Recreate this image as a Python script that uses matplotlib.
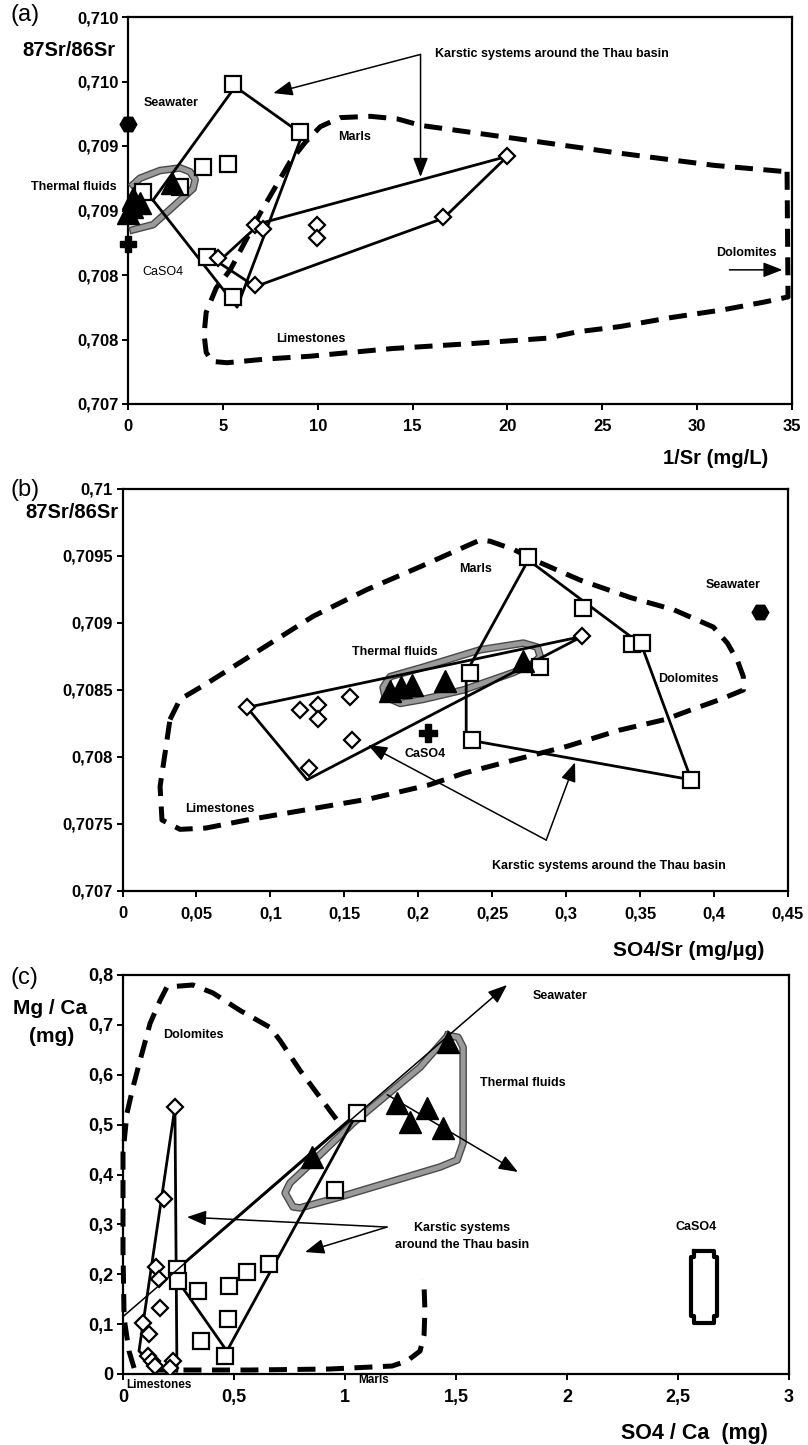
import matplotlib
matplotlib.use("Agg")
import matplotlib.pyplot as plt
import matplotlib.patheffects as pe

plt.rcParams["font.family"] = ["Liberation Sans", "DejaVu Sans"]
plt.rcParams["font.weight"] = "bold"

W, H = 808, 1445

# ---------------- panel (a): 87Sr/86Sr vs 1/Sr
a_sq_x = [5.54, 9.08, 3.96, 5.28, 2.75, 0.79, 4.17, 5.54]
a_sq_y = [0.70948, 0.70911, 0.70884, 0.70886, 0.70868, 0.70864, 0.70814, 0.70783]
a_dia_x = [4.75, 6.70, 7.13, 9.98, 9.98, 6.70, 20.0, 16.6]
a_dia_y = [0.70813, 0.70839, 0.70836, 0.70839, 0.70829, 0.70792, 0.70892, 0.70845]
a_tri_x = [0.26, 0.63, 0.0, 0.21, 2.32]
a_tri_y = [0.70860, 0.70856, 0.70848, 0.70853, 0.70871]
a_sea = [0.0, 0.70917]
a_caso4 = [0.0, 0.70824]
a_poly_sq_x = [1.32, 5.65, 9.19, 5.75, 1.32]
a_poly_sq_y = [0.70858, 0.70946, 0.70909, 0.70775, 0.70858]
a_poly_dia_x = [4.75, 6.97, 20.0, 16.63, 6.71, 4.75]
a_poly_dia_y = [0.70810, 0.70840, 0.70892, 0.70844, 0.70791, 0.70810]
a_carb_x = [34.74, 34.79, 33.53, 31.36, 28.62, 25.92, 23.71, 22.07, 18.27, 13.94,
            9.56, 7.39, 5.23, 4.43, 4.12, 4.01, 4.12, 4.65, 5.39, 6.97, 8.55,
            9.35, 10.14, 11.19, 12.78, 14.2, 15.42, 20.33, 25.61, 30.89, 34.74]
a_carb_y = [0.70880, 0.70783, 0.70779, 0.70773, 0.70767, 0.70760, 0.70756, 0.70751,
            0.70747, 0.70743, 0.70737, 0.70735, 0.70732, 0.70733, 0.70740, 0.70754,
            0.70771, 0.70790, 0.70804, 0.70848, 0.70888, 0.70903, 0.70915, 0.70922,
            0.70923, 0.70921, 0.70916, 0.70906, 0.70895, 0.70885, 0.70880]
a_thermal_x = [0.26, 1.32, 2.38, 3.43, 3.54, 3.27, 2.75, 1.69, 0.63, 0.26]
a_thermal_y = [0.70835, 0.70839, 0.70853, 0.70867, 0.70874, 0.70880, 0.70883,
               0.70881, 0.70875, 0.70870]
a_xticks = [0, 5, 10, 15, 20, 25, 30, 35]
a_xlabels = ["0", "5", "10", "15", "20", "25", "30", "35"]
a_yticks = [0.707, 0.7075, 0.708, 0.7085, 0.709, 0.7095, 0.710]
a_ylabels = ["0,707", "0,708", "0,708", "0,709", "0,709", "0,710", "0,710"]

# ---------------- panel (b): 87Sr/86Sr vs SO4/Sr
b_sq_x = [0.2744, 0.3116, 0.3447, 0.3515, 0.2351, 0.2825, 0.2365, 0.3846]
b_sq_y = [0.70949, 0.70911, 0.70884, 0.70885, 0.70863, 0.70867, 0.70813, 0.70783]
b_dia_x = [0.0842, 0.1201, 0.1323, 0.1323, 0.1540, 0.1553, 0.1262, 0.3109]
b_dia_y = [0.70837, 0.70835, 0.70839, 0.70828, 0.70845, 0.70813, 0.70792, 0.70890]
b_tri_x = [0.181, 0.188, 0.196, 0.218, 0.271]
b_tri_y = [0.70849, 0.70852, 0.70854, 0.70857, 0.70872]
b_sea = [0.4313, 0.70908]
b_caso4 = [0.2067, 0.70818]
b_poly_sq_x = [0.2744, 0.3508, 0.3846, 0.2324, 0.2324, 0.2744]
b_poly_sq_y = [0.70947, 0.70884, 0.70783, 0.70813, 0.70863, 0.70947]
b_poly_dia_x = [0.0842, 0.3109, 0.1248, 0.0842]
b_poly_dia_y = [0.70837, 0.70890, 0.70783, 0.70837]
b_carb_x = [0.0321, 0.0389, 0.0572, 0.0930, 0.1289, 0.1654, 0.2013, 0.2236, 0.2419,
            0.2486, 0.2642, 0.2804, 0.3095, 0.3434, 0.3725, 0.3995, 0.4090, 0.4158,
            0.4198, 0.4198, 0.4043, 0.3840, 0.3670, 0.3359, 0.3007, 0.2656, 0.2311,
            0.2067, 0.1681, 0.1262, 0.0842, 0.0565, 0.0389, 0.0267, 0.0254, 0.0288,
            0.0321]
b_carb_y = [0.70828, 0.70843, 0.70855, 0.70880, 0.70905, 0.70925, 0.70942, 0.70953,
            0.70962, 0.70961, 0.70955, 0.70946, 0.70932, 0.70919, 0.70910, 0.70897,
            0.70885, 0.70872, 0.70860, 0.70850, 0.70843, 0.70835, 0.70828, 0.70820,
            0.70808, 0.70798, 0.70788, 0.70779, 0.70769, 0.70761, 0.70753, 0.70747,
            0.70746, 0.70753, 0.70778, 0.70803, 0.70828]
b_thermal_x = [0.1776, 0.1878, 0.2033, 0.2304, 0.2642, 0.2777, 0.2825, 0.2804, 0.2710,
               0.2419, 0.2033, 0.1810, 0.1762, 0.1776]
b_thermal_y = [0.70845, 0.70840, 0.70843, 0.70850, 0.70863, 0.70870, 0.70875, 0.70882,
               0.70885, 0.70880, 0.70867, 0.70860, 0.70852, 0.70845]
b_xticks = [0, 0.05, 0.1, 0.15, 0.2, 0.25, 0.3, 0.35, 0.4, 0.45]
b_xlabels = ["0", "0,05", "0,1", "0,15", "0,2", "0,25", "0,3", "0,35", "0,4", "0,45"]
b_yticks = [0.707, 0.7075, 0.708, 0.7085, 0.709, 0.7095, 0.71]
b_ylabels = ["0,707", "0,7075", "0,708", "0,7085", "0,709", "0,7095", "0,71"]

# ---------------- panel (c): Mg/Ca vs SO4/Ca
c_sq_x = [0.243, 0.248, 0.338, 0.477, 0.559, 0.658, 0.473, 0.351, 0.459, 0.955, 1.054]
c_sq_y = [0.210, 0.186, 0.166, 0.176, 0.204, 0.220, 0.110, 0.066, 0.036, 0.369, 0.523]
c_dia_x = [0.234, 0.185, 0.149, 0.162, 0.167, 0.090, 0.117, 0.113, 0.131, 0.144, 0.225, 0.212]
c_dia_y = [0.535, 0.351, 0.214, 0.190, 0.132, 0.102, 0.080, 0.036, 0.026, 0.016, 0.026, 0.012]
c_tri_x = [1.464, 1.234, 1.293, 1.369, 1.441, 0.851]
c_tri_y = [0.665, 0.543, 0.505, 0.533, 0.493, 0.435]
c_poly_sq_x = [0.243, 1.054, 0.468, 0.248, 0.243]
c_poly_sq_y = [0.210, 0.523, 0.046, 0.186, 0.210]
c_poly_dia_x = [0.234, 0.072, 0.144, 0.212, 0.243, 0.234]
c_poly_dia_y = [0.535, 0.046, 0.016, 0.012, 0.005, 0.535]
c_dolo_x = [0.050, 0.027, 0.005, 0.0, 0.0, 0.018, 0.045, 0.077, 0.122, 0.167, 0.198,
            0.257, 0.315, 0.405, 0.527, 0.662, 0.707, 0.797, 0.887, 0.964, 0.991]
c_dolo_y = [0.012, 0.046, 0.112, 0.248, 0.443, 0.523, 0.575, 0.629, 0.703, 0.749, 0.776,
            0.778, 0.780, 0.764, 0.729, 0.695, 0.669, 0.609, 0.555, 0.509, 0.483]
c_marl_x = [0.144, 0.572, 0.932, 1.212, 1.279, 1.338, 1.356, 1.360, 1.356, 1.347]
c_marl_y = [0.008, 0.008, 0.010, 0.016, 0.026, 0.046, 0.078, 0.126, 0.180, 0.190]
c_thermal_x = [1.464, 1.509, 1.532, 1.532, 1.505, 1.428, 0.977, 0.797, 0.766, 0.730,
               0.752, 0.829, 1.036, 1.338, 1.464]
c_thermal_y = [0.679, 0.675, 0.655, 0.463, 0.429, 0.415, 0.355, 0.333, 0.335, 0.363,
               0.383, 0.415, 0.503, 0.615, 0.679]
c_caso4_x = [2.572, 2.662, 2.662, 2.676, 2.676, 2.662, 2.662, 2.572, 2.572, 2.559, 2.559, 2.572, 2.572]
c_caso4_y = [0.2465, 0.2465, 0.2345, 0.2345, 0.1162, 0.1162, 0.1022, 0.1022, 0.1162,
             0.1162, 0.2345, 0.2345, 0.2465]
c_xticks = [0, 0.5, 1, 1.5, 2, 2.5, 3]
c_xlabels = ["0", "0,5", "1", "1,5", "2", "2,5", "3"]
c_yticks = [0, 0.1, 0.2, 0.3, 0.4, 0.5, 0.6, 0.7, 0.8]
c_ylabels = ["0", "0,1", "0,2", "0,3", "0,4", "0,5", "0,6", "0,7", "0,8"]

DASH = (0, (3.6, 2.1))
GRAY_FX = [pe.Stroke(linewidth=5.5, foreground="#4a4a4a"), pe.Normal()]


def style_axes(ax, xlim, ylim, xticks, xlabels, yticks, ylabels, size=12):
    ax.set_xlim(xlim)
    ax.set_ylim(ylim)
    ax.set_xticks(xticks)
    ax.set_xticklabels(xlabels)
    ax.set_yticks(yticks)
    ax.set_yticklabels(ylabels)
    for s in ax.spines.values():
        s.set_linewidth(1.6)
    ax.tick_params(direction="out", length=4, width=1.4, labelsize=size)
    ax.tick_params(axis="x", pad=7)
    ax.tick_params(axis="y", pad=3)


def markers(ax, sq, dia, tri):
    ax.plot(sq[0], sq[1], "s", ms=12, mfc="white", mec="black", mew=1.6, ls="none", zorder=5)
    ax.plot(dia[0], dia[1], "D", ms=8, mfc="white", mec="black", mew=1.6, ls="none", zorder=5)
    ax.plot(tri[0], tri[1], "^", ms=16, color="black", ls="none", zorder=6, clip_on=False)


def arrow(ax, start, end, lw=1.1):
    ax.annotate("", xy=end, xytext=start,
                arrowprops=dict(arrowstyle="-|>,head_length=0.9,head_width=0.35",
                                mutation_scale=13, lw=lw, color="black",
                                shrinkA=0, shrinkB=0), zorder=7)


fig = plt.figure(figsize=(W / 100, H / 100), dpi=100)

# ---------------- (a)
ax = fig.add_axes([128 / W, 1 - 404 / H, 664 / W, 387 / H])
ax.plot(a_carb_x, a_carb_y, color="black", lw=3.6, ls=DASH, dash_capstyle="butt", zorder=2)
ax.plot(a_thermal_x, a_thermal_y, color="#9a9a9a", lw=3.5, path_effects=GRAY_FX, zorder=3)
ax.plot(a_poly_sq_x, a_poly_sq_y, color="black", lw=2, zorder=4)
ax.plot(a_poly_dia_x, a_poly_dia_y, color="black", lw=2, zorder=4)
markers(ax, (a_sq_x, a_sq_y), (a_dia_x, a_dia_y), (a_tri_x, a_tri_y))
ax.plot(a_sea[0], a_sea[1], "H", ms=12, color="black", clip_on=False, zorder=6)
ax.plot(a_caso4[0], a_caso4[1], "P", ms=12, color="black", clip_on=False, zorder=6)
arrow(ax, (15.42, 0.70971), (7.66, 0.70941))
arrow(ax, (15.42, 0.70971), (15.42, 0.70876))
arrow(ax, (31.7, 0.70804), (34.5, 0.70804))
fs = 9
ax.text(16.2, 0.70971, "Karstic systems around the Thau basin", fontsize=fs, va="center")
ax.text(0.8, 0.70933, "Seawater", fontsize=fs, va="center")
ax.text(-0.6, 0.70868, "Thermal fluids", fontsize=fs, va="center", ha="right", clip_on=False)
ax.text(0.74, 0.70802, "CaSO4", fontsize=fs, va="center", fontweight="normal")
ax.text(11.1, 0.70907, "Marls", fontsize=fs, va="center")
ax.text(7.8, 0.70750, "Limestones", fontsize=fs, va="center")
ax.text(31.0, 0.70817, "Dolomites", fontsize=fs, va="center")
style_axes(ax, (0, 35), (0.707, 0.710), a_xticks, a_xlabels, a_yticks, a_ylabels)
fig.text(10 / W, 1 - 15 / H, "(a)", fontsize=17, fontweight="normal", va="center")
fig.text(116 / W, 1 - 50 / H, "87Sr/86Sr", fontsize=14.5, ha="right", va="center")
fig.text(768 / W, 1 - 458 / H, "1/Sr (mg/L)", fontsize=14.5, ha="right", va="center")

# ---------------- (b)
ax = fig.add_axes([122.5 / W, 1 - 891 / H, 665.5 / W, 402 / H])
ax.plot(b_carb_x, b_carb_y, color="black", lw=3.6, ls=DASH, dash_capstyle="butt", zorder=2)
ax.plot(b_thermal_x, b_thermal_y, color="#9a9a9a", lw=3.5, path_effects=GRAY_FX, zorder=3)
ax.plot(b_poly_sq_x, b_poly_sq_y, color="black", lw=2, zorder=4)
ax.plot(b_poly_dia_x, b_poly_dia_y, color="black", lw=2, zorder=4)
markers(ax, (b_sq_x, b_sq_y), (b_dia_x, b_dia_y), (b_tri_x, b_tri_y))
ax.plot(b_sea[0], b_sea[1], "H", ms=12, color="black", zorder=6)
ax.plot(b_caso4[0], b_caso4[1], "P", ms=13, color="black", zorder=6)
arrow(ax, (0.2865, 0.70738), (0.166, 0.70809))
arrow(ax, (0.2865, 0.70738), (0.306, 0.70796))
ax.text(0.184, 0.70878, "Thermal fluids", fontsize=fs, ha="center", va="center")
ax.text(0.239, 0.70940, "Marls", fontsize=fs, ha="center", va="center")
ax.text(0.413, 0.70928, "Seawater", fontsize=fs, ha="center", va="center")
ax.text(0.3825, 0.70858, "Dolomites", fontsize=fs, ha="center", va="center")
ax.text(0.2046, 0.70802, "CaSO4", fontsize=fs, ha="center", va="center")
ax.text(0.0655, 0.70761, "Limestones", fontsize=fs, ha="center", va="center")
ax.text(0.3286, 0.70719, "Karstic systems around the Thau basin", fontsize=fs,
        ha="center", va="center")
style_axes(ax, (0, 0.45), (0.707, 0.710), b_xticks, b_xlabels, b_yticks, b_ylabels)
fig.text(10 / W, 1 - 490 / H, "(b)", fontsize=17, fontweight="normal", va="center")
fig.text(119 / W, 1 - 513 / H, "87Sr/86Sr", fontsize=14.5, ha="right", va="center")
fig.text(764 / W, 1 - 950 / H, "SO4/Sr (mg/µg)", fontsize=15, ha="right", va="center")

# ---------------- (c)
ax = fig.add_axes([123 / W, 1 - 1374 / H, 666 / W, 399 / H])
ax.plot(c_dolo_x, c_dolo_y, color="black", lw=3.6, ls=DASH, dash_capstyle="butt",
        zorder=2, clip_on=False)
ax.plot(c_marl_x, c_marl_y, color="black", lw=3.6, ls=DASH, dash_capstyle="butt", zorder=2)
ax.plot(c_thermal_x, c_thermal_y, color="#9a9a9a", lw=3.5, path_effects=GRAY_FX, zorder=3)
ax.plot(c_poly_sq_x, c_poly_sq_y, color="black", lw=2, zorder=4)
ax.plot(c_poly_dia_x, c_poly_dia_y, color="black", lw=2, zorder=4)
ax.plot(c_caso4_x, c_caso4_y, color="black", lw=3, zorder=4)
markers(ax, (c_sq_x, c_sq_y), (c_dia_x, c_dia_y), (c_tri_x, c_tri_y))
arrow(ax, (0.0, 0.115), (1.73, 0.78))
arrow(ax, (1.19, 0.56), (1.779, 0.405))
arrow(ax, (1.189, 0.2946), (0.288, 0.3146))
arrow(ax, (1.189, 0.2946), (0.82, 0.2445))
ax.text(1.847, 0.757, "Seawater", fontsize=fs, va="center")
ax.text(1.608, 0.583, "Thermal fluids", fontsize=fs, va="center")
ax.text(0.18, 0.679, "Dolomites", fontsize=fs, va="center")
ax.text(2.58, 0.295, "CaSO4", fontsize=fs, ha="center", va="center")
ax.text(1.527, 0.2755, "Karstic systems\naround the Thau basin", fontsize=fs,
        ha="center", va="center", linespacing=1.5)
ax.text(0.014, -0.022, "Limestones", fontsize=fs - 0.5, va="center", clip_on=False)
ax.text(1.13, -0.012, "Marls", fontsize=fs - 0.5, ha="center", va="center", clip_on=False)
style_axes(ax, (0, 3), (0, 0.8), c_xticks, c_xlabels, c_yticks, c_ylabels, size=13)
fig.text(10 / W, 1 - 978 / H, "(c)", fontsize=17, fontweight="normal", va="center")
fig.text(50 / W, 1 - 1008 / H, "Mg / Ca", fontsize=15, ha="center", va="center")
fig.text(52 / W, 1 - 1036 / H, "(mg)", fontsize=15, ha="center", va="center")
fig.text(768 / W, 1 - 1434 / H, "SO4 / Ca  (mg)", fontsize=15.5, ha="right", va="center")

fig.savefig("out.png", dpi=100)
